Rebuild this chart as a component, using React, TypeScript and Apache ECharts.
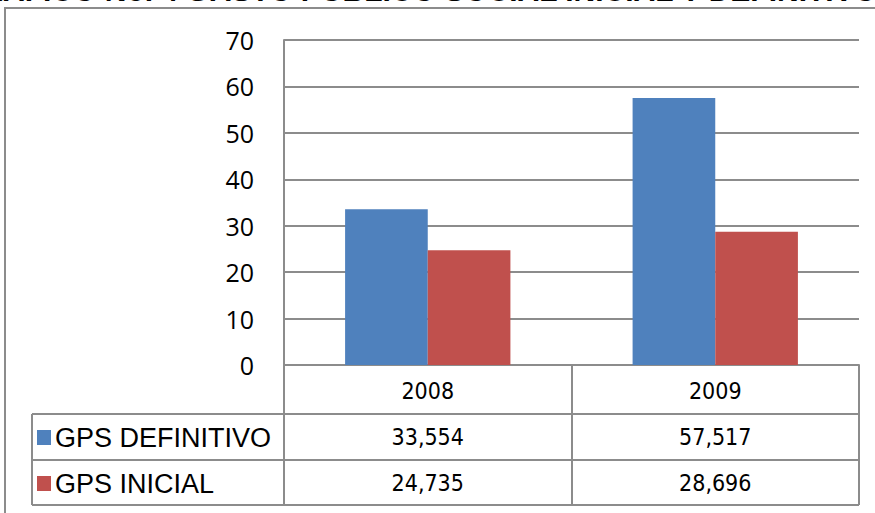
import React, { useEffect, useRef } from "react";
import * as echarts from "echarts";

const categories = ["2008", "2009"];
const seriesNames = ["GPS DEFINITIVO", "GPS INICIAL"];
const gpsDefinitivo = [33.554, 57.517];
const gpsInicial = [24.735, 28.696];
const yTicks = [0, 10, 20, 30, 40, 50, 60, 70];
const titleText = "GRÁFICO No. 4 GASTO PÚBLICO SOCIAL INICIAL Y DEFINITIVO";

const BLUE = "#4F81BD";
const RED = "#C0504D";
const GRID = "#8c8c8c";
const COND = "'DejaVu Sans Condensed', 'Liberation Sans Narrow', 'Liberation Sans', sans-serif";
const SANS = "'Liberation Sans', Arial, sans-serif";

const fmt = (v: number) => v.toFixed(3).replace(".", ",");

export default function App() {
  const ref = useRef<HTMLDivElement>(null);
  useEffect(() => {
    if (!ref.current) return;
    const chart = echarts.init(ref.current, undefined, { renderer: "svg" });
    const left = 284;
    const right = 859;
    const top = 40;
    const bottom = 365;
    const colW = (right - left) / categories.length;
    const row1 = 414;
    const row2 = 460;
    const row3 = 505;
    const tableLeft = 32;
    const allRows = [gpsDefinitivo, gpsInicial];
    const rowCenters = [437, 483];
    const colors = [BLUE, RED];

    const graphic: any[] = [
      {
        type: "text",
        left: -42,
        top: -25,
        style: { text: titleText, font: `bold 30px ${SANS}`, fill: "#000" },
      },
      {
        type: "polyline",
        shape: { points: [[5, 513], [5, 8], [875, 8]] },
        style: { stroke: GRID, lineWidth: 2, fill: "none" },
      },
    ];
    [row1, row2, row3].forEach((y) => {
      graphic.push({
        type: "line",
        shape: { x1: tableLeft, y1: y, x2: right, y2: y },
        style: { stroke: GRID, lineWidth: 2 },
      });
    });
    graphic.push({
      type: "line",
      shape: { x1: tableLeft, y1: row1, x2: tableLeft, y2: row3 },
      style: { stroke: GRID, lineWidth: 2 },
    });
    allRows.forEach((vals, r) => {
      graphic.push({
        type: "rect",
        shape: { x: 37, y: rowCenters[r] - 7, width: 14, height: 15 },
        style: { fill: colors[r] },
      });
      graphic.push({
        type: "text",
        x: 55,
        y: rowCenters[r] + 1,
        style: {
          text: seriesNames[r],
          font: `27px ${SANS}`,
          fill: "#000",
          align: "left",
          verticalAlign: "middle",
        },
      });
      vals.forEach((v, c) => {
        graphic.push({
          type: "text",
          x: left + colW * (c + 0.5),
          y: rowCenters[r],
          style: {
            text: fmt(v),
            font: `23px ${COND}`,
            fill: "#000",
            align: "center",
            verticalAlign: "middle",
          },
        });
      });
    });

    chart.setOption({
      animation: false,
      backgroundColor: "#fff",
      grid: { left, right: 875 - right, top, bottom: 513 - bottom },
      xAxis: {
        type: "category",
        data: categories,
        axisLine: { show: true, lineStyle: { color: GRID, width: 2 } },
        axisTick: { show: true, length: row3 - bottom, lineStyle: { color: GRID, width: 2 } },
        axisLabel: { fontFamily: COND, fontSize: 23, color: "#000", margin: 14 },
        splitLine: { show: false },
      },
      yAxis: {
        type: "value",
        min: 0,
        max: 70,
        interval: 10,
        axisLine: { show: true, lineStyle: { color: GRID, width: 2 } },
        axisTick: { show: false },
        axisLabel: {
          fontFamily: "'Open Sans', 'Liberation Sans', sans-serif",
          fontSize: 25,
          color: "#000",
          margin: 30,
          formatter: (v: number) => (yTicks.includes(v) ? String(v) : ""),
        },
        splitLine: { show: true, lineStyle: { color: GRID, width: 2 } },
      },
      series: [
        {
          name: seriesNames[0],
          type: "bar",
          data: gpsDefinitivo,
          itemStyle: { color: BLUE },
          barGap: "0%",
          barCategoryGap: "42.5%",
        },
        {
          name: seriesNames[1],
          type: "bar",
          data: gpsInicial,
          itemStyle: { color: RED },
          barGap: "0%",
          barCategoryGap: "42.5%",
        },
      ],
      graphic,
    });
    return () => chart.dispose();
  }, []);
  return (
    <div
      ref={ref}
      style={{ position: "fixed", left: 0, top: 0, width: 875, height: 513, background: "#fff" }}
    />
  );
}
